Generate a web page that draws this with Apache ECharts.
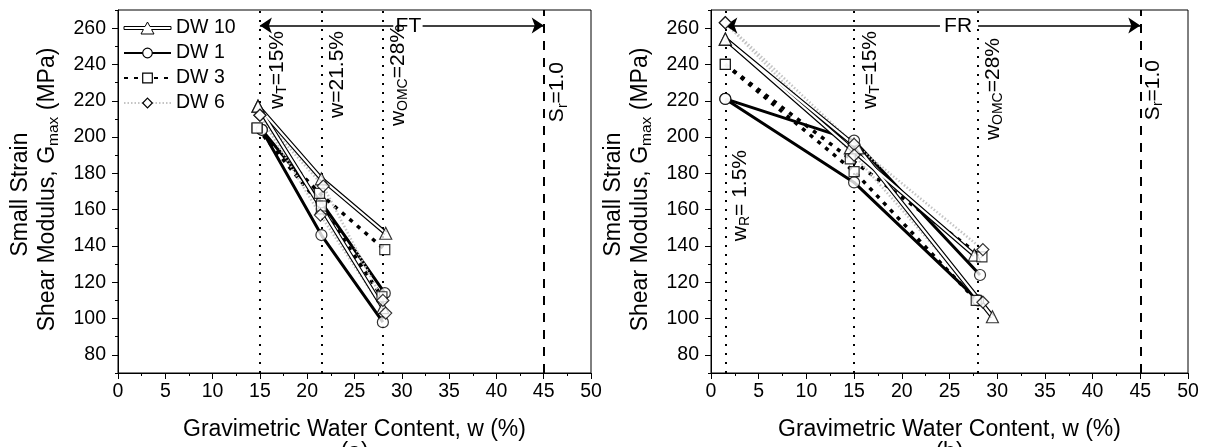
<!DOCTYPE html>
<html><head><meta charset="utf-8">
<script src="https://cdn.jsdelivr.net/npm/echarts@6/dist/echarts.min.js"></script>
<style>html,body{margin:0;padding:0;background:#fff}#c{width:1208px;height:447px}</style>
</head><body><div id="c"></div>
<script>
// ---------- DATA ----------
const seriesNames = ['DW 10', 'DW 1', 'DW 3', 'DW 6'];
const xTicks = [0, 5, 10, 15, 20, 25, 30, 35, 40, 45, 50];
const yTickLabels = [80, 100, 120, 140, 160, 180, 200, 220, 240, 260];

// Panel (a) FT : [w (%), Gmax (MPa)]
const a_DW10_s1 = [[14.8, 217], [21.5, 177], [28.3, 147]];
const a_DW10_s2 = [[14.8, 217], [21.5, 161], [28.0, 106]];
const a_DW1_s1  = [[15.2, 204], [21.5, 164], [28.2, 114]];
const a_DW1_s2  = [[15.2, 204], [21.5, 146], [28.0, 98]];
const a_DW3_s1  = [[14.7, 205], [21.3, 169], [28.2, 138]];
const a_DW3_s2  = [[14.7, 205], [21.5, 162], [27.9, 112]];
const a_DW6_s1  = [[15.0, 212], [21.7, 173], [28.0, 110]];
const a_DW6_s2  = [[15.0, 212], [21.4, 157], [28.3, 103]];

// Panel (b) FR
const b_DW10_s1 = [[1.5, 254], [14.6, 194], [27.6, 135]];
const b_DW10_s2 = [[1.5, 254], [15.4, 194], [29.5, 101]];
const b_DW1_s1  = [[1.5, 221], [15.0, 198], [28.2, 124]];
const b_DW1_s2  = [[1.5, 221], [15.0, 175], [28.0, 110]];
const b_DW3_s1  = [[1.5, 240], [14.6, 188], [28.4, 134]];
const b_DW3_s2  = [[1.5, 240], [15.0, 181], [27.8, 110]];
const b_DW6_s1  = [[1.5, 263], [15.0, 196], [28.5, 138]];
const b_DW6_s2  = [[1.5, 263], [15.0, 190], [28.5, 109]];

// reference lines (w values)
const refDottedA = [15, 21.5, 28];
const refDottedB = [1.5, 15, 28];
const satLine = 45;
const arrowY = 261.5;
const ftArrowA = [[15, 29.1], [32.2, 45]];
const frArrowB = [[1.5, 24.0], [28.0, 45]];
const ftTextX = 30.7, frTextX = 25.9;

// ---------- STYLES ----------
const FONT = 'Liberation Sans, Arial, sans-serif';
const styles = {
  'DW 10': {symbol: 'triangle', size: 12, line: {color: '#000', width: 4.5, type: 'solid'}},
  'DW 1':  {symbol: 'circle', size: 11, line: {color: '#000', width: 3, type: 'solid'}},
  'DW 3':  {symbol: 'rect', size: 10, line: {color: '#000', width: 3.5, type: [4, 6]}},
  'DW 6':  {symbol: 'diamond', size: 12, line: {color: '#c4c4c4', width: 2.5, type: [1.5, 2]}}
};
const panelData = [
  {'DW 10': [a_DW10_s1, a_DW10_s2], 'DW 1': [a_DW1_s1, a_DW1_s2], 'DW 3': [a_DW3_s1, a_DW3_s2], 'DW 6': [a_DW6_s1, a_DW6_s2]},
  {'DW 10': [b_DW10_s1, b_DW10_s2], 'DW 1': [b_DW1_s1, b_DW1_s2], 'DW 3': [b_DW3_s1, b_DW3_s2], 'DW 6': [b_DW6_s1, b_DW6_s2]}
];

const hollow = {color: '#fff', borderColor: '#000', borderWidth: 1.2};
const series = [];
const order = ['DW 1', 'DW 3', 'DW 6', 'DW 10'];
for (let p = 0; p < 2; p++) {
  order.forEach(name => {
    const st = styles[name];
    panelData[p][name].forEach(d => {
      series.push({
        type: 'line', name, xAxisIndex: p, yAxisIndex: 2 * p, data: d,
        symbol: st.symbol, symbolSize: st.size, showSymbol: false,
        itemStyle: hollow, lineStyle: st.line, z: 2, silent: true
      });
      if (name === 'DW 10') {
        series.push({
          type: 'line', name, xAxisIndex: p, yAxisIndex: 2 * p, data: d,
          symbol: 'none', showSymbol: false,
          lineStyle: {color: '#fff', width: 2.2}, z: 3, silent: true
        });
      }
    });
  });
  seriesNames.forEach(name => {
    const st = styles[name];
    series.push({
      type: 'scatter', name, xAxisIndex: p, yAxisIndex: 2 * p,
      data: panelData[p][name][0].concat(panelData[p][name][1]),
      symbol: st.symbol, symbolSize: st.size, itemStyle: hollow, z: 5, silent: true
    });
  });
  // reference lines & arrows
  const dotted = p === 0 ? refDottedA : refDottedB;
  const arr = p === 0 ? ftArrowA : frArrowB;
  const mlData = dotted.map(v => ({xAxis: v, lineStyle: {type: [2, 7], width: 2, color: '#000'}}));
  mlData.push({xAxis: satLine, lineStyle: {type: [9, 8], width: 2, color: '#000'}});
  mlData.push([{coord: [arr[0][0], arrowY], symbol: 'arrow'}, {coord: [arr[0][1], arrowY], symbol: 'none'}]);
  mlData.push([{coord: [arr[1][0], arrowY], symbol: 'none'}, {coord: [arr[1][1], arrowY], symbol: 'arrow'}]);
  series.push({
    type: 'line', name: 'ref' + p, xAxisIndex: p, yAxisIndex: 2 * p, data: [],
    markLine: {
      silent: true, symbol: 'none', symbolSize: 12, animation: false,
      label: {show: false}, lineStyle: {color: '#000', width: 1.6, type: 'solid'},
      emphasis: {disabled: true}, data: mlData
    }
  });
}

function xAxisFor(p) {
  return {
    type: 'value', gridIndex: p, min: 0, max: 50, interval: 5,
    axisLine: {show: true, lineStyle: {color: '#000', width: 1}},
    axisTick: {show: true, inside: false, length: 6, lineStyle: {color: '#000'}},
    minorTick: {show: true, splitNumber: 2, length: 3, lineStyle: {color: '#000'}},
    splitLine: {show: false},
    axisLabel: {color: '#000', fontSize: 19.5, fontFamily: FONT, margin: 9}
  };
}
function yAxesFor(p) {
  return [{
    type: 'value', gridIndex: p, min: 70, max: 270, interval: 10,
    axisLine: {show: true, lineStyle: {color: '#000', width: 1}},
    axisTick: {show: true, length: 3, lineStyle: {color: '#000'}},
    splitLine: {show: false},
    axisLabel: {color: '#000', fontSize: 19.5, fontFamily: FONT, margin: 12,
      formatter: v => (yTickLabels.indexOf(v) >= 0 ? String(v) : '')}
  }, {
    type: 'value', gridIndex: p, min: 70, max: 270, interval: 10, position: 'left',
    axisLine: {show: false},
    axisTick: {show: true, length: 6, customValues: yTickLabels, lineStyle: {color: '#000'}},
    splitLine: {show: false}, axisLabel: {show: false}
  }];
}

const chart = echarts.init(document.getElementById('c'), null, {renderer: 'canvas'});
const option = {
  animation: false,
  backgroundColor: '#fff',
  textStyle: {fontFamily: FONT},
  grid: [
    {left: 118, top: 10, width: 473, height: 363, show: true, borderColor: '#000', borderWidth: 1, backgroundColor: 'transparent'},
    {left: 711, top: 10, width: 477, height: 363, show: true, borderColor: '#000', borderWidth: 1, backgroundColor: 'transparent'}
  ],
  xAxis: [xAxisFor(0), xAxisFor(1)],
  yAxis: yAxesFor(0).concat(yAxesFor(1)),
  legend: {
    show: true, orient: 'vertical', left: 123, top: 18, padding: 0,
    itemWidth: 47, itemHeight: 12, itemGap: 5,
    textStyle: {fontSize: 19.5, fontFamily: FONT, color: '#000', lineHeight: 19},
    selectedMode: false,
    data: [
      {name: 'DW 10', icon: 'path://M0 4.5L21.06 4.5L23.5 0L25.94 4.5L47 4.5L47 7.5L27.56 7.5L30 12L17 12L19.44 7.5L0 7.5Z',
       itemStyle: {color: '#fff', borderColor: '#000', borderWidth: 1}},
      {name: 'DW 1', itemStyle: {borderWidth: 1.2}},
      {name: 'DW 3', itemStyle: {borderWidth: 1.2}},
      {name: 'DW 6', itemStyle: {borderWidth: 1.2}}
    ]
  },
  series
};
chart.setOption(option);

// ---------- annotations (positions derived from data coords) ----------
const rich = {
  n: {fontSize: 21, fontFamily: FONT, color: '#000', lineHeight: 24},
  s: {fontSize: 14, fontFamily: FONT, color: '#000', lineHeight: 14, verticalAlign: 'bottom'},
  t: {fontSize: 23, fontFamily: FONT, color: '#000', lineHeight: 27},
  ts: {fontSize: 15.5, fontFamily: FONT, color: '#000', lineHeight: 15, verticalAlign: 'bottom'}
};
function px(p, x, y) { return chart.convertToPixel({gridIndex: p}, [x, y]); }
function vtext(p, xv, dx, yTop, text) {
  const pt = px(p, xv, 200);
  return {type: 'text', x: pt[0] + dx, y: yTop, rotation: Math.PI / 2, silent: true,
    style: {text, rich, align: 'right', verticalAlign: 'middle'}};
}
function ctext(x, y, text, rot, va) {
  return {type: 'text', x, y, rotation: rot || 0, silent: true,
    style: {text, rich, align: 'center', verticalAlign: va || 'middle'}};
}
const graphics = [];
// panel a
graphics.push(vtext(0, 15, 17, 31, '{n|w}{s|T}{n|=15%}'));
graphics.push(vtext(0, 21.5, 16, 31, '{n|w=21.5%}'));
graphics.push(vtext(0, 28, 15, 24, '{n|w}{s|OMC}{n|=28%}'));
graphics.push(vtext(0, satLine, 14, 62, '{n|S}{s|r}{n|=1.0}'));
// panel b
graphics.push(vtext(1, 1.5, 15, 150, '{n|w}{s|R}{n|= 1.5%}'));
graphics.push(vtext(1, 15, 16, 31, '{n|w}{s|T}{n|=15%}'));
graphics.push(vtext(1, 28, 15, 38, '{n|w}{s|OMC}{n|=28%}'));
graphics.push(vtext(1, satLine, 13, 60, '{n|S}{s|r}{n|=1.0}'));
// FT / FR labels
const ftp = px(0, ftTextX, arrowY), frp = px(1, frTextX, arrowY);
graphics.push(ctext(ftp[0], ftp[1] + 1, '{n|FT}'));
graphics.push(ctext(frp[0], frp[1] + 1, '{n|FR}'));
// axis titles
[0, 1].forEach(p => {
  const l = px(p, 0, 170), r = px(p, 50, 170);
  const cx = (l[0] + r[0]) / 2;
  graphics.push(ctext(cx, 430, '{t|Gravimetric Water Content, w (%)}'));
  graphics.push(ctext(cx, 439, '{t|' + (p === 0 ? '(a)' : '(b)') + '}', 0, 'top'));
  const yc = px(p, 0, 170)[1];
  graphics.push(ctext(l[0] - 97, yc + 3, '{t|Small Strain}', Math.PI / 2));
  graphics.push(ctext(l[0] - 70, yc - 2, '{t|Shear Modulus, G}{ts|max}{t| (MPa)}', Math.PI / 2));
});
chart.setOption({graphic: graphics});
</script>
</body></html>
